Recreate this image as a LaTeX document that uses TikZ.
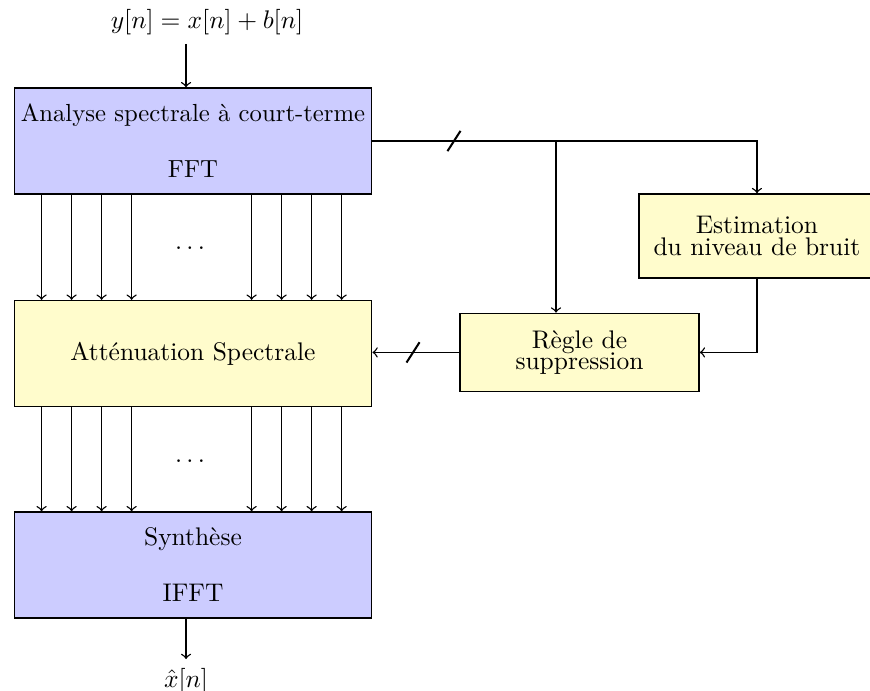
\documentclass[tikz,border=0pt]{standalone}
\usepackage{amsmath}
\usepackage{xcolor}
\usepackage{tikz}
\usetikzlibrary{arrows,positioning}

\tikzset{
    bloc/.style={draw, fill=blue!20, minimum width=4.93cm, minimum height=1.46cm, inner xsep=0.5pt, align=center},
    jaune/.style={draw, fill=yellow!20, align=center},
    barre/.style={line width=0.8pt}
}

\begin{document}
\begin{tikzpicture}[line width=0.55pt]
    \useasboundingbox (0,0) rectangle (12,9.531);
    \node (yin) at (2.855,9.228) {$y[n] = x[n] + b[n]$};
    \node[bloc, font=\fontsize{9.7pt}{12pt}\selectfont] (fft) at (2.662,7.586) {Analyse spectrale à court-terme\\[10pt]FFT};
    \node[bloc, fill=yellow!20] (att) at (2.662,4.655) {Atténuation Spectrale};
    \node[bloc] (ifft) at (2.662,1.738) {Synthèse\\[10pt]IFFT};
    \node (xout) at (2.566,0.138) {$\hat{x}[n]$};
    \node[jaune, minimum width=3.255cm, minimum height=1.159cm] (est) at (10.441,6.276) {Estimation\\[-3.6pt]du niveau de bruit};
    \node[jaune, minimum width=3.297cm, minimum height=1.076cm] (regle) at (7.993,4.67) {Règle de\\[-3.6pt]suppression};
    \node (dots1) at (2.621,6.11) {$\ldots$};
    \node (dots2) at (2.621,3.17) {$\ldots$};
    \coordinate (axe) at (2.566,0);
    \coordinate (split) at (7.669,0);
    \coordinate (cut1) at (6.262,7.586);
    \coordinate (cut2) at (5.697,4.67);

    \draw[->] (yin.south -| axe) -- (fft.north -| axe);
    \draw[->] (ifft.south -| axe) -- (xout);
    \foreach \dx in {0.386,0.800,1.214,1.628,3.283,3.697,4.111,4.525} {
        \draw[->] ([xshift=\dx cm]fft.south west) -- ([xshift=\dx cm]att.north west);
        \draw[->] ([xshift=\dx cm]att.south west) -- ([xshift=\dx cm]ifft.north west);
    }
    \draw[->] (fft.east) -| (est.north);
    \draw[->] (fft.east -| split) -- (regle.north -| split);
    \draw[->] (est.south) |- (regle.east);
    \draw[->] (regle.west) -- (regle.west -| att.east);
    % barres sur les bus
    \draw[barre] (cut1) ++(-0.09,-0.14) -- ++(0.18,0.28);
    \draw[barre] (cut2) ++(-0.09,-0.14) -- ++(0.18,0.28);
\end{tikzpicture}
\end{document}
